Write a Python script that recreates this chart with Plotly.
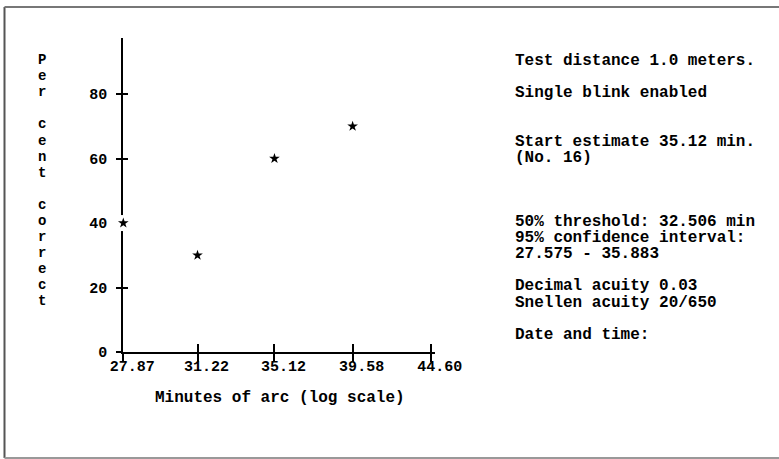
import math

import plotly.graph_objects as go

# data
x_values = [27.87, 31.22, 35.12, 39.58]
pct_correct = [40, 30, 60, 70]
x_ticks = [27.87, 31.22, 35.12, 39.58, 44.60]
x_tick_labels = ["27.87", "31.22", "35.12", "39.58", "44.60"]
y_ticks = [0, 20, 40, 60, 80]
y_tick_labels = ["0", "20", "40", "60", "80"]

# right-hand text block, "" = blank printer line
info_lines = [
    "Test distance 1.0 meters.",
    "",
    "Single blink enabled",
    "",
    "",
    "Start estimate 35.12 min.",
    "(No. 16)",
    "",
    "",
    "",
    "50% threshold: 32.506 min",
    "95% confidence interval:",
    "27.575 - 35.883",
    "",
    "Decimal acuity 0.03",
    "Snellen acuity 20/650",
    "",
    "Date and time:",
]
y_title = "Per cent correct"
x_title = "Minutes of arc (log scale)"

FONT = "Liberation Mono"
W, H = 779, 459
L, R, T, B = 123, 344, 38, 107
PW, PH = W - L - R, H - T - B
LINE = 16.1  # printer line pitch in px


def px_x(px):
    return (px - L) / PW


def px_y(py):
    return (H - B - py) / PH


def printed(lines, size):
    # big glyphs on a tight line pitch: base font sets the pitch, span sets glyph size
    return "<br>".join(
        f'<span style="font-size:{size}px">{s}</span>' if s.strip() else " " for s in lines
    )


x_range = [math.log10(27.87) - 0.0002, 1.6522]
y_range = [0, 97.4]

fig = go.Figure()
# white patch so the axis line breaks behind the point
fig.add_trace(go.Scatter(
    x=x_values, y=pct_correct, mode="markers",
    marker=dict(symbol="square", size=16, color="white"),
    cliponaxis=False, hoverinfo="skip", showlegend=False,
))
fig.add_trace(go.Scatter(
    x=x_values, y=pct_correct, mode="markers",
    marker=dict(symbol="star", size=8, color="black"),
    cliponaxis=False, showlegend=False,
))

axis_common = dict(showgrid=False, zeroline=False, layer="below traces",
                   tickcolor="black", tickwidth=1.5)
tick_font = dict(family=FONT, size=15, color="black", weight="bold")
base_font = dict(family=FONT, size=LINE / 1.3, color="black", weight="bold")

fig.update_layout(
    width=W, height=H,
    margin=dict(l=L, r=R, t=T, b=B),
    paper_bgcolor="white", plot_bgcolor="white",
    # printer labels sit a little right of their ticks
    xaxis=dict(type="log", range=x_range, tickvals=x_ticks,
               ticktext=["\u00a0\u00a0" + t for t in x_tick_labels],
               ticks="outside", ticklen=8, showline=True, linecolor="black", linewidth=1.5,
               tickfont=tick_font, ticklabelstandoff=-9, anchor="y", **axis_common),
    xaxis2=dict(type="log", range=x_range, tickvals=x_ticks, overlaying="x", anchor="y",
                side="bottom", ticks="inside", ticklen=8, showticklabels=False,
                showline=False, **axis_common),
    yaxis=dict(range=y_range, tickvals=y_ticks, ticktext=y_tick_labels,
               ticks="outside", ticklen=5, showline=True, linecolor="black", linewidth=1.5,
               tickfont=tick_font, ticklabelstandoff=6, anchor="x", **axis_common),
    yaxis2=dict(range=y_range, tickvals=y_ticks, overlaying="y", anchor="x", side="left",
                ticks="inside", ticklen=5, showticklabels=False, showline=False,
                **axis_common),
)
# invisible trace so the overlay axes are drawn
fig.add_trace(go.Scatter(x=[x_ticks[0]], y=[0], xaxis="x2", yaxis="y2", mode="markers",
                         marker=dict(opacity=0), hoverinfo="skip", showlegend=False))

# vertical stacked y title, one letter per line
fig.add_annotation(
    text=printed(list(y_title), 14),
    x=px_x(42), y=px_y(181), xref="paper", yref="paper",
    xanchor="center", yanchor="middle", showarrow=False, font=base_font,
)
fig.add_annotation(
    text=x_title, x=px_x(280), y=px_y(398), xref="paper", yref="paper",
    xanchor="center", yanchor="middle", showarrow=False,
    font=dict(family=FONT, size=16, color="black", weight="bold"),
)
fig.add_annotation(
    text=printed(info_lines, 16), align="left",
    x=px_x(513), y=px_y(61.3 + (len(info_lines) - 1) * LINE / 2), xref="paper", yref="paper",
    xanchor="left", yanchor="middle", showarrow=False, font=base_font,
)

# frame around the printout: left, top and bottom edges
for x0, y0, x1, y1, col in [(4.5, 7, 4.5, 458, "#555555"),
                            (4.5, 7, 779, 7, "#777777"),
                            (4.5, 458, 779, 458, "#999999")]:
    fig.add_shape(type="line", xref="paper", yref="paper",
                  x0=px_x(x0), x1=px_x(x1), y0=px_y(y0), y1=px_y(y1),
                  line=dict(color=col, width=2))

fig.write_html("out.html", config={"displayModeBar": False},
               post_script="document.body.style.margin='0';"
                           "document.body.style.overflow='hidden';")
